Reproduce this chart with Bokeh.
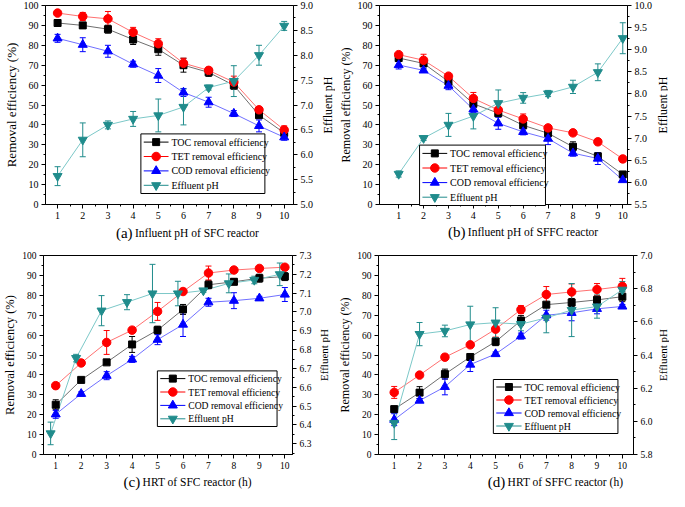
import math
from bokeh.plotting import figure
from bokeh.models import Range1d, LinearAxis, FixedTicker, PrintfTickFormatter
from bokeh.core.properties import value
from bokeh.layouts import column, row
from bokeh.embed import file_html
from bokeh.resources import INLINE

FONT = "Liberation Serif"

# ---------------- data ----------------
X = [1, 2, 3, 4, 5, 6, 7, 8, 9, 10]
X_TICKS = [1, 2, 3, 4, 5, 6, 7, 8, 9, 10]
X_MINOR = [1.5, 2.5, 3.5, 4.5, 5.5, 6.5, 7.5, 8.5, 9.5]
Y_TICKS = [0, 10, 20, 30, 40, 50, 60, 70, 80, 90, 100]
Y_MINOR = [5, 15, 25, 35, 45, 55, 65, 75, 85, 95]
LEGEND_LABELS = ["TOC removal efficiency", "TET removal efficiency",
                 "COD removal efficiency", "Effluent pH"]

# (a) Influent pH of SFC reactor
a_toc = [91.2, 90.0, 88.1, 82.9, 78.0, 70.0, 66.4, 59.9, 44.9, 36.0]
a_toc_err = [1.5, 1.5, 2.0, 2.5, 3.0, 3.5, 2.0, 2.0, 1.0, 2.0]
a_tet = [96.2, 94.5, 93.3, 86.5, 80.8, 71.0, 67.4, 61.5, 47.6, 37.5]
a_tet_err = [1.0, 2.0, 3.7, 2.5, 2.5, 2.5, 1.5, 3.0, 1.0, 2.0]
a_cod = [83.5, 80.3, 77.0, 70.5, 64.8, 56.3, 51.4, 45.7, 39.5, 33.8]
a_cod_err = [2.0, 3.5, 3.0, 1.5, 3.5, 2.0, 2.5, 1.5, 3.0, 1.5]
a_ph_x = [1, 2, 3, 4, 5, 6, 7, 8, 9, 10]
a_ph = [5.57, 6.30, 6.60, 6.72, 6.79, 6.96, 7.35, 7.48, 8.00, 8.59]
a_ph_err = [0.19, 0.34, 0.08, 0.15, 0.33, 0.36, 0.05, 0.31, 0.20, 0.09]
a_ph_ticks = [5.0, 5.5, 6.0, 6.5, 7.0, 7.5, 8.0, 8.5, 9.0]
a_ph_minor = [5.25, 5.75, 6.25, 6.75, 7.25, 7.75, 8.25, 8.75]

# (b) Influent pH of SFFC reactor
b_toc = [73.6, 70.9, 61.8, 50.6, 45.9, 39.8, 35.8, 29.0, 24.2, 15.1]
b_toc_err = [1.5, 1.5, 2.0, 1.5, 1.5, 1.5, 1.5, 2.5, 1.5, 1.0]
b_tet = [75.3, 72.5, 64.5, 53.3, 47.5, 43.0, 38.5, 36.0, 31.5, 22.9]
b_tet_err = [1.0, 3.0, 1.0, 3.0, 1.0, 2.5, 1.0, 1.0, 1.5, 1.5]
b_cod = [70.1, 67.4, 59.7, 47.8, 40.8, 36.5, 33.1, 25.8, 23.1, 12.3]
b_cod_err = [2.0, 1.0, 2.0, 1.5, 3.0, 1.5, 3.0, 1.5, 3.0, 1.0]
b_ph_x = [1, 2, 3, 4, 5, 6, 7, 8, 9, 10]
b_ph = [6.19, 7.00, 7.30, 7.50, 7.79, 7.91, 8.01, 8.16, 8.49, 9.26]
b_ph_err = [0.07, 0.05, 0.26, 0.29, 0.30, 0.12, 0.07, 0.15, 0.19, 0.35]
b_ph_ticks = [5.5, 6.0, 6.5, 7.0, 7.5, 8.0, 8.5, 9.0, 9.5, 10.0]
b_ph_minor = [5.75, 6.25, 6.75, 7.25, 7.75, 8.25, 8.75, 9.25, 9.75]

# (c) HRT of SFC reactor
c_toc = [25.0, 37.5, 46.3, 55.3, 62.5, 72.9, 85.3, 86.8, 88.6, 89.4]
c_toc_err = [2.5, 1.0, 1.0, 4.0, 2.0, 2.5, 2.0, 1.5, 2.0, 2.0]
c_tet = [34.6, 46.0, 56.3, 62.5, 71.9, 81.9, 91.2, 92.7, 93.5, 94.1]
c_tet_err = [1.5, 1.0, 6.0, 1.0, 4.5, 1.5, 3.5, 1.0, 1.0, 1.0]
c_cod = [20.2, 30.5, 39.6, 47.8, 57.7, 65.3, 76.5, 77.3, 78.5, 80.4]
c_cod_err = [2.0, 1.0, 2.0, 1.5, 2.5, 6.0, 2.0, 4.0, 1.0, 3.5]
c_ph_x = [0.8, 1.8, 2.8, 3.8, 4.8, 5.8, 6.8, 7.8, 8.8, 9.8]
c_ph = [6.355, 6.755, 7.007, 7.052, 7.098, 7.098, 7.114, 7.152, 7.170, 7.200]
c_ph_err = [0.06, 0.02, 0.08, 0.04, 0.155, 0.065, 0.01, 0.05, 0.02, 0.06]
c_ph_ticks = [6.3, 6.4, 6.5, 6.6, 6.7, 6.8, 6.9, 7.0, 7.1, 7.2, 7.3]
c_ph_minor = [6.25, 6.35, 6.45, 6.55, 6.65, 6.75, 6.85, 6.95, 7.05, 7.15, 7.25]

# (d) HRT of SFFC reactor
d_toc = [22.8, 31.1, 40.4, 49.0, 56.7, 67.3, 75.3, 76.4, 77.7, 79.3]
d_toc_err = [1.5, 3.0, 2.5, 1.5, 2.0, 2.5, 1.0, 2.0, 2.0, 2.5]
d_tet = [31.2, 39.9, 48.9, 55.1, 63.0, 72.8, 80.4, 81.7, 82.9, 84.5]
d_tet_err = [3.0, 1.0, 1.5, 1.0, 4.0, 2.0, 4.0, 4.0, 3.0, 4.0]
d_cod = [17.5, 27.1, 34.0, 45.2, 50.5, 59.5, 70.0, 71.2, 73.2, 74.4]
d_cod_err = [3.0, 1.0, 4.0, 3.5, 1.0, 1.5, 2.5, 4.0, 2.5, 1.0]
d_ph_x = [1, 2, 3, 4, 5, 6, 7, 8, 9, 10]
d_ph = [5.99, 6.526, 6.545, 6.584, 6.595, 6.586, 6.624, 6.671, 6.692, 6.793]
d_ph_err = [0.10, 0.07, 0.035, 0.11, 0.09, 0.04, 0.09, 0.16, 0.07, 0.05]
d_ph_ticks = [5.8, 6.0, 6.2, 6.4, 6.6, 6.8, 7.0]
d_ph_minor = [5.9, 6.1, 6.3, 6.5, 6.7, 6.9]

# ---------------- style ----------------
COLORS = ["#000000", "#ff0000", "#0000ff", "#208c8c"]
LINE_COLORS = ["#6e6e6e", "#ff7070", "#7070ff", "#7cc8c8"]
MARKERS = ["square", "circle", "triangle", "inverted_triangle"]
SIZES = [7, 8.5, 9, 9]
XL_H = 18  # height of the strip holding each panel's x title


def style_axis(ax, tick_size, label_size="12px", label_standoff=3):
    ax.axis_line_color = "black"
    ax.axis_line_width = 1
    ax.major_tick_line_color = "black"
    ax.minor_tick_line_color = "black"
    ax.major_tick_out = 4
    ax.major_tick_in = 0
    ax.minor_tick_out = 2
    ax.minor_tick_in = 0
    ax.major_label_text_font = FONT
    ax.major_label_text_font_size = tick_size
    ax.major_label_text_color = "black"
    ax.major_label_standoff = 3
    ax.axis_label_text_font = FONT
    ax.axis_label_text_font_style = "normal"
    ax.axis_label_text_font_size = label_size
    ax.axis_label_text_color = "black"
    ax.axis_label_standoff = label_standoff


def blank(w, h):
    q = figure(width=w, height=h, x_range=Range1d(0, w), y_range=Range1d(0, h),
               x_axis_type=None, y_axis_type=None, output_backend="svg",
               toolbar_location=None, min_border=0)
    q.min_border_left = q.min_border_right = q.min_border_top = q.min_border_bottom = 0
    q.outline_line_color = None
    q.grid.visible = False
    q.background_fill_color = "white"
    q.border_fill_color = "white"
    return q


def build(spec):
    mbl, mbr, mbt, mbb = spec["mb"]
    fw, fh = spec["frame"]
    w = mbl + fw + mbr
    h = mbt + fh + mbb
    p = figure(width=w, height=h,
               x_range=Range1d(*spec["xr"]), y_range=Range1d(0, 100),
               output_backend="svg", toolbar_location=None,
               min_border_left=mbl, min_border_right=mbr,
               min_border_top=mbt, min_border_bottom=mbb)
    p.extra_y_ranges = {"ph": Range1d(*spec["phr"])}
    p.grid.visible = False
    p.outline_line_color = "black"
    p.outline_line_alpha = 1
    p.outline_line_width = 1
    p.background_fill_color = "white"
    p.border_fill_color = "white"

    x0, x1 = spec["xr"]

    def dx(px):
        return x0 + px * (x1 - x0) / fw

    def dy(py):
        return py * 100.0 / fh

    xa = p.xaxis[0]
    xa.ticker = FixedTicker(ticks=X_TICKS, minor_ticks=X_MINOR)
    style_axis(xa, spec["tick"])

    ya = p.yaxis[0]
    ya.ticker = FixedTicker(ticks=Y_TICKS, minor_ticks=Y_MINOR)
    ya.axis_label = "Removal efficiency (%)"
    style_axis(ya, spec["tick"], spec["ylab_size"], 2)

    ra = LinearAxis(y_range_name="ph",
                    ticker=FixedTicker(ticks=spec["ph_ticks"], minor_ticks=spec["ph_minor"]),
                    formatter=PrintfTickFormatter(format="%.1f"))
    style_axis(ra, spec["tick"])
    p.add_layout(ra, "right")

    series = spec["series"]
    for i, (xs, ys, es, rn) in enumerate(series):
        p.line(xs, ys, line_color=LINE_COLORS[i], line_width=1, y_range_name=rn)
    for i, (xs, ys, es, rn) in enumerate(series):
        lo = [y - e for y, e in zip(ys, es)]
        hi = [y + e for y, e in zip(ys, es)]
        p.segment(x0=xs, y0=lo, x1=xs, y1=hi, line_color=COLORS[i], line_width=1,
                  y_range_name=rn)
        p.scatter(xs, lo, marker="dash", size=6, line_color=COLORS[i], line_width=1,
                  y_range_name=rn)
        p.scatter(xs, hi, marker="dash", size=6, line_color=COLORS[i], line_width=1,
                  y_range_name=rn)
    for i, (xs, ys, es, rn) in enumerate(series):
        p.scatter(xs, ys, marker=MARKERS[i], size=SIZES[i], fill_color=COLORS[i],
                  line_color=COLORS[i], y_range_name=rn)

    # legend (drawn manually so markers keep their plotted size)
    L, B = spec["leg"]
    W = spec["leg_w"]
    RH = spec["leg_rh"]
    PAD = 1.0
    H = 4 * RH + 2 * PAD
    p.quad(left=[dx(L)], right=[dx(L + W)], bottom=[dy(B)], top=[dy(B + H)],
           fill_color="white", line_color="black", line_width=1, level="overlay")
    for i, lab in enumerate(LEGEND_LABELS):
        cy = B + H - PAD - RH * (i + 0.5)
        p.segment(x0=[dx(L + 3)], y0=[dy(cy)], x1=[dx(L + 29)], y1=[dy(cy)],
                  line_color=COLORS[i], line_width=1, level="overlay")
        p.scatter([dx(L + 16)], [dy(cy)], marker=MARKERS[i], size=SIZES[i],
                  fill_color=COLORS[i], line_color=COLORS[i], level="overlay")
        p.text([dx(L + 32)], [dy(cy)], text=[lab], text_font=value(FONT),
               text_font_size=spec["leg_font"], text_baseline="middle",
               text_align="left", text_color="black", level="overlay")

    # strip below: x title with a larger panel letter
    xl = blank(w, XL_H)
    tag, rest = spec["xlabel"]
    sx = mbl + spec["split"]
    ty = spec["xl_y"]
    xl.text([sx - 3], [ty], text=[tag], text_font=value(FONT), text_font_size="15px",
            text_align="right", text_baseline="middle", text_color="black")
    xl.text([sx], [ty], text=[rest], text_font=value(FONT), text_font_size="11.5px",
            text_align="left", text_baseline="middle", text_color="black")

    # strip on the right: right axis title reading upwards
    rw = spec["rl_w"]
    rl = blank(rw, h)
    rl.text([spec["rl_x"]], [mbb + fh / 2.0], text=["Effluent pH"], angle=math.pi / 2,
            text_font=value(FONT), text_font_size=spec["rlab_size"],
            text_align="center", text_baseline="middle", text_color="black")

    return row(column(p, xl), rl)


spec_a = dict(mb=(34, 22, 5, 19), frame=(260, 199), xr=(0.52, 10.37), phr=(5.0, 9.0),
              ph_ticks=a_ph_ticks, ph_minor=a_ph_minor, tick="10px",
              ylab_size="13px", rlab_size="12px", rl_w=19, rl_x=11,
              xlabel=("(a)", "Influent pH of SFC reactor"), split=80, xl_y=9,
              series=[(X, a_toc, a_toc_err, "default"), (X, a_tet, a_tet_err, "default"),
                      (X, a_cod, a_cod_err, "default"), (a_ph_x, a_ph, a_ph_err, "ph")],
              leg=(100, 11), leg_w=130, leg_rh=14.4, leg_font="10px")
spec_b = dict(mb=(35, 25, 5, 19), frame=(260, 199), xr=(0.23, 10.19), phr=(5.5, 10.0),
              ph_ticks=b_ph_ticks, ph_minor=b_ph_minor, tick="10px",
              ylab_size="12px", rlab_size="12px", rl_w=13, rl_x=7,
              xlabel=("(b)", "Influent pH of SFFC reactor"), split=79, xl_y=10,
              series=[(X, b_toc, b_toc_err, "default"), (X, b_tet, b_tet_err, "default"),
                      (X, b_cod, b_cod_err, "default"), (b_ph_x, b_ph, b_ph_err, "ph")],
              leg=(42, -1), leg_w=132, leg_rh=14.6, leg_font="10px")
spec_c = dict(mb=(34, 22, 14, 19), frame=(258, 199), xr=(0.52, 10.3), phr=(6.243, 7.3),
              ph_ticks=c_ph_ticks, ph_minor=c_ph_minor, tick="9.5px",
              ylab_size="12.5px", rlab_size="11px", rl_w=21, rl_x=9,
              xlabel=("(c)", "HRT of SFC reactor (h)"), split=91, xl_y=10,
              series=[(X, c_toc, c_toc_err, "default"), (X, c_tet, c_tet_err, "default"),
                      (X, c_cod, c_cod_err, "default"), (c_ph_x, c_ph, c_ph_err, "ph")],
              leg=(118, 28), leg_w=124, leg_rh=13.4, leg_font="9.6px")
spec_d = dict(mb=(36, 22, 14, 19), frame=(262, 199), xr=(0.38, 10.44), phr=(5.8, 7.0),
              ph_ticks=d_ph_ticks, ph_minor=d_ph_minor, tick="9.5px",
              ylab_size="12px", rlab_size="11px", rl_w=14, rl_x=7,
              xlabel=("(d)", "HRT of SFFC reactor (h)"), split=126, xl_y=10,
              series=[(X, d_toc, d_toc_err, "default"), (X, d_tet, d_tet_err, "default"),
                      (X, d_cod, d_cod_err, "default"), (d_ph_x, d_ph, d_ph_err, "ph")],
              leg=(118, 21), leg_w=128, leg_rh=13.0, leg_font="9.8px")

pa = build(spec_a)
pb = build(spec_b)
pc = build(spec_c)
pd = build(spec_d)

layout = column(row(pa, pb), row(pc, pd))
open("out.html", "w").write(file_html(layout, INLINE))
